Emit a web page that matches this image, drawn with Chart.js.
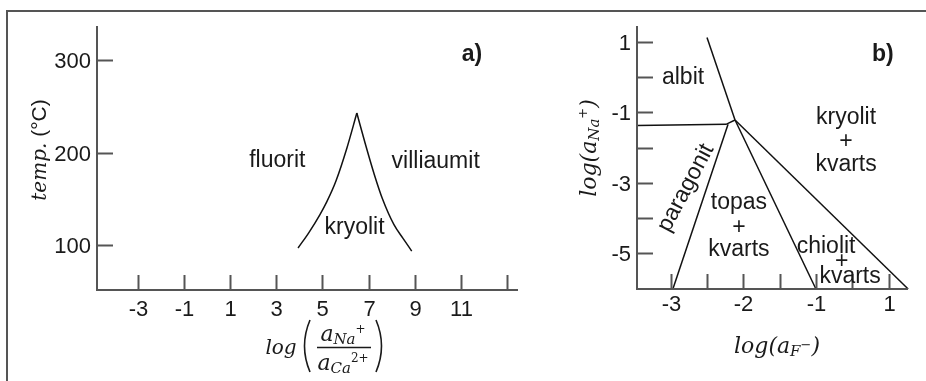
<!DOCTYPE html>
<html>
<head>
<meta charset="utf-8">
<script src="https://cdn.jsdelivr.net/npm/chart.js@4/dist/chart.umd.min.js"></script>
<style>
  body { margin: 0; background: #fff; }
  #wrap { position: relative; width: 926px; height: 381px; overflow: hidden; }
  #wrap canvas { position: absolute; left: 0; top: 0; }
  #frame { position: absolute; left: 6px; top: 10px; width: 960px; height: 420px;
           border-top: 2px solid #555; border-left: 2px solid #555; }
</style>
</head>
<body>
<div id="wrap">
  <div id="frame"></div>
  <canvas id="chartA" width="926" height="381"></canvas>
  <canvas id="chartB" width="926" height="381"></canvas>
</div>
<script>
// ---- a) temp. vs log(aNa+/aCa2+) ----
const aTicksX = [-3, -1, 1, 3, 5, 7, 9, 11, 13];
const aLabelsX = ['-3', '-1', '1', '3', '5', '7', '9', '11', ''];
const aTicksY = [100, 200, 300];
const aLabelsY = ['100', '200', '300'];
// grensen rundt kryolitfeltet (venstre og høyre gren)
const kryolitLeft = [
  { x: 3.94, y: 96.8 }, { x: 4.41, y: 113.5 }, { x: 4.89, y: 133 }, { x: 5.19, y: 147 },
  { x: 5.58, y: 169 }, { x: 6.06, y: 205 }, { x: 6.49, y: 242.7 }
];
const kryolitRight = [
  { x: 6.49, y: 242.7 }, { x: 6.85, y: 210 }, { x: 7.25, y: 176 }, { x: 7.6, y: 150 },
  { x: 8.1, y: 122 }, { x: 8.5, y: 107 }, { x: 8.87, y: 93.5 }
];
const aFields = [
  { text: 'fluorit', x: 3.04, y: 190.8 },
  { text: 'villiaumit', x: 9.91, y: 189.7 },
  { text: 'kryolit', x: 6.39, y: 118.4 }
];

// ---- b) log(aNa+) vs log(aF-) ----
const bTicksX = [-3, -2.5, -2, -1.5, -1, -0.5, 0];
const bLabelsX = ['-3', '', '-2', '', '-1', '', '1'];
const bTicksY = [1, 0, -1, -2, -3, -4, -5];
const bLabelsY = ['1', '', '-1', '', '-3', '', '-5'];
const albitKryolit = [{ x: -2.50, y: 1.13 }, { x: -2.114, y: -1.218 }];
const albitParagonit = [{ x: -3.464, y: -1.37 }, { x: -2.238, y: -1.34 }, { x: -2.114, y: -1.218 }];
const paragonitTopas = [{ x: -2.97, y: -6.02 }, { x: -2.21, y: -1.34 }];
const topasChiolit = [{ x: -2.114, y: -1.218 }, { x: -1.0, y: -6.02 }];
const chiolitKryolit = [{ x: -2.114, y: -1.218 }, { x: 0.27, y: -6.02 }];
const bFields = [
  { text: 'albit', x: -2.83, y: -0.02 },
  { text: 'kryolit', x: -0.585, y: -1.16 },
  { text: '+', x: -0.585, y: -1.84 },
  { text: 'kvarts', x: -0.585, y: -2.50 },
  { text: 'topas', x: -2.06, y: -3.58 },
  { text: '+', x: -2.06, y: -4.29 },
  { text: 'kvarts', x: -2.06, y: -4.91 },
  { text: 'chiolit', x: -0.86, y: -4.82 },
  { text: '+', x: -0.645, y: -5.23 },
  { text: 'kvarts', x: -0.53, y: -5.67 },
  { text: 'paragonit', x: -2.79, y: -3.15, rot: -62 }
];

const SANS = '"Liberation Sans", Arial, sans-serif';
const MATH = '"DejaVu Serif", serif';
const INK = '#1a1a1a';
const AXIS = '#555';

// tegner tekst satt sammen av flere deler (kursiv, senket, hevet)
function richText(ctx, parts, cx, baseY) {
  let total = 0;
  parts.forEach(p => { ctx.font = p.f; total += ctx.measureText(p.t).width + (p.gap || 0); });
  let x = cx - total / 2;
  ctx.textAlign = 'left';
  ctx.textBaseline = 'alphabetic';
  parts.forEach(p => {
    ctx.font = p.f;
    ctx.fillText(p.t, x, baseY + (p.dy || 0));
    x += ctx.measureText(p.t).width + (p.gap || 0);
  });
}

// akser, merker, feltnavn og aksetitler
const paperAxes = {
  id: 'paperAxes',
  afterDatasetsDraw(chart, args, o) {
    const { ctx, chartArea: ca, scales: { x, y } } = chart;
    ctx.save();
    ctx.strokeStyle = AXIS;
    ctx.lineWidth = 2;
    ctx.beginPath();
    ctx.moveTo(ca.left, ca.top);
    ctx.lineTo(ca.left, ca.bottom);
    ctx.lineTo(ca.right, ca.bottom);
    ctx.stroke();

    ctx.fillStyle = INK;
    ctx.font = '22px ' + SANS;
    ctx.textAlign = 'center';
    ctx.textBaseline = 'middle';
    o.xTicks.forEach((v, i) => {
      const px = Math.round(x.getPixelForValue(v)) + 0.5;
      ctx.beginPath();
      ctx.moveTo(px, ca.bottom);
      ctx.lineTo(px, ca.bottom - 15);
      ctx.stroke();
      ctx.fillText(o.xLabels[i], px, ca.bottom + o.xLabelOff);
    });
    ctx.textAlign = 'right';
    o.yTicks.forEach((v, i) => {
      const py = Math.round(y.getPixelForValue(v)) + 0.5;
      ctx.beginPath();
      ctx.moveTo(ca.left, py);
      ctx.lineTo(ca.left + 16, py);
      ctx.stroke();
      ctx.fillText(o.yLabels[i], ca.left - 6, py + 1);
    });

    ctx.font = '23px ' + SANS;
    ctx.textAlign = 'center';
    o.fields.forEach(f => {
      const px = x.getPixelForValue(f.x), py = y.getPixelForValue(f.y);
      ctx.save();
      ctx.translate(px, py);
      if (f.rot) ctx.rotate(f.rot * Math.PI / 180);
      ctx.fillText(f.text, 0, 0);
      ctx.restore();
    });
    ctx.font = 'bold 23px ' + SANS;
    ctx.fillText(o.tag.text, x.getPixelForValue(o.tag.x), y.getPixelForValue(o.tag.y));

    o.titles(ctx, ca);
    ctx.restore();
  }
};

function titlesA(ctx, ca) {
  // y: temp. (°C)
  ctx.save();
  ctx.translate(46, 150);
  ctx.rotate(-Math.PI / 2);
  richText(ctx, [
    { t: 'temp.', f: 'italic 20px ' + MATH },
    { t: ' (°C)', f: '21px ' + SANS }
  ], 0, 0);
  ctx.restore();
  // x: log( aNa+ / aCa2+ )
  richText(ctx, [{ t: 'log', f: 'italic 20px ' + MATH }], 281, 354);
  ctx.strokeStyle = INK;
  ctx.lineWidth = 1.6;
  ctx.beginPath();
  ctx.moveTo(310, 320); ctx.quadraticCurveTo(299, 346, 310, 372);
  ctx.moveTo(376, 320); ctx.quadraticCurveTo(387, 346, 376, 372);
  ctx.moveTo(317, 347.5); ctx.lineTo(371, 347.5);
  ctx.stroke();
  richText(ctx, [
    { t: 'a', f: 'italic 22px ' + MATH },
    { t: 'Na', f: 'italic 15px ' + MATH, dy: 3 },
    { t: '+', f: '12px ' + MATH, dy: -8 }
  ], 343, 341);
  richText(ctx, [
    { t: 'a', f: 'italic 22px ' + MATH },
    { t: 'Ca', f: 'italic 15px ' + MATH, dy: 3 },
    { t: '2+', f: '12px ' + MATH, dy: -8 }
  ], 343, 370);
}

function titlesB(ctx, ca) {
  ctx.save();
  ctx.translate(596, 148);
  ctx.rotate(-Math.PI / 2);
  richText(ctx, [
    { t: 'log(a', f: 'italic 22px ' + MATH },
    { t: 'Na', f: 'italic 15px ' + MATH, dy: 3 },
    { t: '+', f: '13px ' + MATH, dy: -9 },
    { t: ')', f: 'italic 22px ' + MATH }
  ], 0, 0);
  ctx.restore();
  richText(ctx, [
    { t: 'log(a', f: 'italic 22px ' + MATH },
    { t: 'F', f: 'italic 15px ' + MATH, dy: 3 },
    { t: '−', f: '13px ' + MATH, dy: -4 },
    { t: ')', f: 'italic 22px ' + MATH }
  ], 777, 353);
}

function line(data, smooth) {
  return {
    data, showLine: true, borderColor: '#111', borderWidth: 1.5,
    pointRadius: 0, clip: false,
    cubicInterpolationMode: smooth ? 'monotone' : 'default', tension: 0
  };
}

function baseOptions(pad, xr, yr, axesOpts) {
  return {
    responsive: false, animation: false, events: [],
    layout: { padding: pad },
    plugins: { legend: { display: false }, tooltip: { enabled: false }, paperAxes: axesOpts },
    scales: {
      x: { type: 'linear', min: xr[0], max: xr[1], display: false },
      y: { type: 'linear', min: yr[0], max: yr[1], display: false }
    }
  };
}

new Chart(document.getElementById('chartA'), {
  type: 'scatter',
  data: { datasets: [line(kryolitLeft, true), line(kryolitRight, true)] },
  options: baseOptions({ left: 97, top: 26, right: 408, bottom: 91 }, [-4.78, 13.48], [51.4, 336.8], {
    xTicks: aTicksX, xLabels: aLabelsX, yTicks: aTicksY, yLabels: aLabelsY,
    xLabelOff: 20, fields: aFields, tag: { text: 'a)', x: 11.48, y: 305.4 }, titles: titlesA
  }),
  plugins: [paperAxes]
});

new Chart(document.getElementById('chartB'), {
  type: 'scatter',
  data: { datasets: [
    line(albitKryolit), line(albitParagonit), line(paragonitTopas),
    line(topasChiolit), line(chiolitKryolit)
  ] },
  options: baseOptions({ left: 637, top: 26, right: 18, bottom: 92 }, [-3.464, 0.268], [-6.02, 1.455], {
    xTicks: bTicksX, xLabels: bLabelsX, yTicks: bTicksY, yLabels: bLabelsY,
    xLabelOff: 16, fields: bFields, tag: { text: 'b)', x: -0.08, y: 0.63 }, titles: titlesB
  }),
  plugins: [paperAxes]
});
</script>
</body>
</html>
